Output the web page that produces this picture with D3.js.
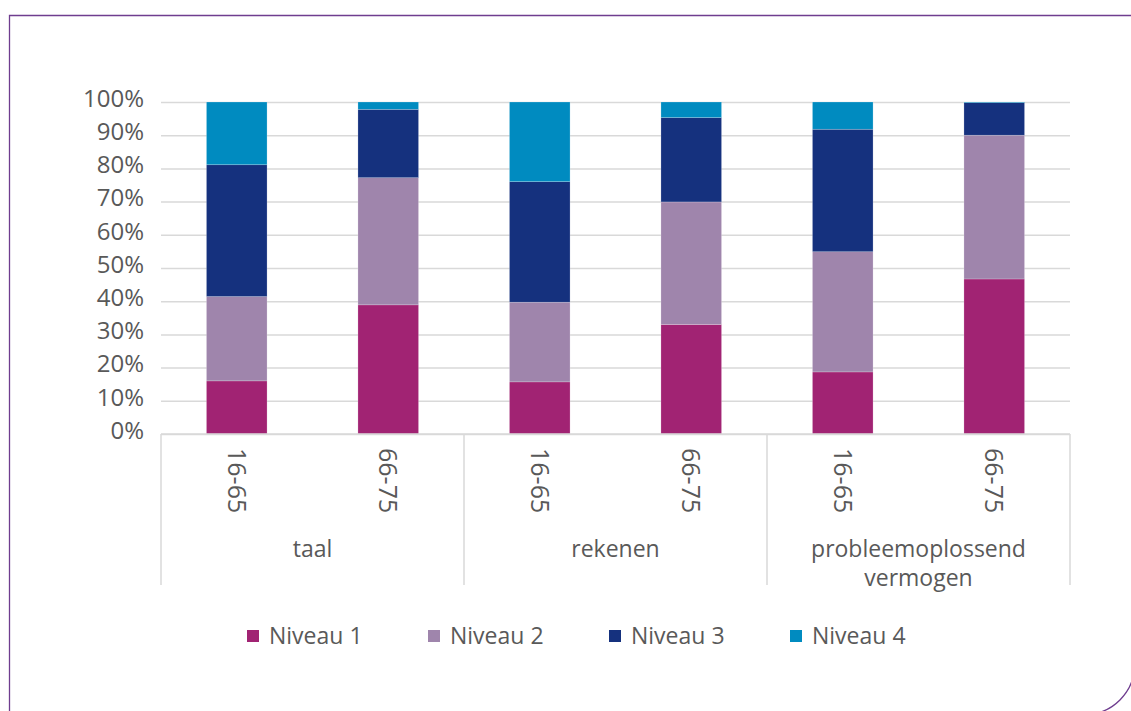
<!DOCTYPE html>
<html>
<head>
<meta charset="utf-8">
<script src="https://cdn.jsdelivr.net/npm/d3@7"></script>
<style>
  body { margin: 0; background: #fff; }
  svg text { font-family: "Open Sans", "Noto Sans", sans-serif; fill: #595959; }
</style>
</head>
<body>
<svg id="chart"></svg>
<script>
/*
    DATA
*/
var groups = ["taal", "rekenen", "probleemoplossend vermogen"];
var ages = ["16-65", "66-75"];
var levels = ["Niveau 1", "Niveau 2", "Niveau 3", "Niveau 4"];
var colors = ["#a12373", "#9f85ac", "#15317e", "#008bc0"];

// percentages per bar, order: taal 16-65, taal 66-75, rekenen ..., probleemoplossend ...
var niveau1 = [16.0, 38.9, 15.7, 33.0, 18.7, 46.7];
var niveau2 = [25.4, 38.3, 24.0, 36.9, 36.2, 43.3];
var niveau3 = [39.7, 20.6, 36.3, 25.4, 36.9, 9.8];
var niveau4 = [18.9, 2.2, 24.0, 4.7, 8.2, 0.2];

var yTicks = [0, 10, 20, 30, 40, 50, 60, 70, 80, 90, 100];

/*
    LAYOUT
*/
var width = 1131;
var height = 711;
var margin = {top: 102, left: 161, right: 61, bottom: 277};
var w = width - margin.left - margin.right;
var h = height - margin.top - margin.bottom;

var svg = d3.select("#chart")
    .attr("width", width)
    .attr("height", height);

// frame: square top-left, rounded bottom-right corner that runs off the page
svg.append("path")
    .attr("d", "M9.5,740 V15.5 H1134.6 V664.6 A50,50 0 0 1 1084.6,714.6 H9.5")
    .attr("fill", "none")
    .attr("stroke", "#6f3d8f")
    .attr("stroke-width", 1.3);

var chart = svg.append("g")
    .attr("transform", "translate(" + margin.left + "," + margin.top + ")");

//build rows for the stack
var rows = [];
groups.forEach(function(g, gi) {
    ages.forEach(function(a, ai) {
        var i = gi * ages.length + ai;
        rows.push({group: g, age: a,
            "Niveau 1": niveau1[i], "Niveau 2": niveau2[i],
            "Niveau 3": niveau3[i], "Niveau 4": niveau4[i]});
    });
});

var stacked = d3.stack().keys(levels)(rows);

/*
    SCALES
*/
var xGroup = d3.scaleBand().domain(groups).range([0, w]);
var xAge = d3.scaleBand().domain(ages).range([0, xGroup.bandwidth()])
    .paddingInner(0.6).paddingOuter(0.3);
var yScale = d3.scaleLinear().domain([0, 100]).range([h, 0]);
var color = d3.scaleOrdinal().domain(levels).range(colors);

// gridlines + y labels
var yAxis = chart.append("g")
    .attr("class", "y-axis")
    .call(d3.axisLeft(yScale).tickValues(yTicks)
        .tickSize(-w).tickPadding(17)
        .tickFormat(function(d) { return d + "%"; }));
yAxis.select(".domain").remove();
yAxis.selectAll(".tick line")
    .attr("stroke", "#d9d9d9")
    .attr("stroke-width", 1.5);
yAxis.selectAll(".tick text")
    .style("font-size", "24px")
    .attr("dy", "0.18em");

/*
    BARS
*/
var layer = chart.selectAll(".layer")
    .data(stacked)
    .enter().append("g")
    .attr("class", "layer")
    .attr("fill", function(d) { return color(d.key); });

layer.selectAll("rect")
    .data(function(d) { return d; })
    .enter().append("rect")
    .attr("x", function(d) { return xGroup(d.data.group) + xAge(d.data.age); })
    .attr("y", function(d) { return yScale(d[1]); })
    .attr("width", xAge.bandwidth())
    .attr("height", function(d) { return yScale(d[0]) - yScale(d[1]); })
    .attr("stroke", "#ffffff")
    .attr("stroke-opacity", 0.35)
    .attr("stroke-width", 0.6);

/*
    X AXIS (two-level)
*/
var xAxis = chart.append("g")
    .attr("transform", "translate(0," + h + ")");

xAxis.append("line")
    .attr("x1", 0).attr("x2", w)
    .attr("stroke", "#d9d9d9").attr("stroke-width", 1.5);

var sepX = [0].concat(groups.map(function(g) { return xGroup(g) + xGroup.bandwidth(); }));
xAxis.selectAll(".sep")
    .data(sepX)
    .enter().append("line")
    .attr("class", "sep")
    .attr("x1", function(d) { return d; })
    .attr("x2", function(d) { return d; })
    .attr("y1", 0).attr("y2", 151)
    .attr("stroke", "#d9d9d9").attr("stroke-width", 1.5);

xAxis.selectAll(".age-label")
    .data(rows)
    .enter().append("text")
    .attr("class", "age-label")
    .attr("transform", function(d) {
        var cx = xGroup(d.group) + xAge(d.age) + xAge.bandwidth() / 2;
        return "translate(" + cx + ",14) rotate(90)";
    })
    .attr("dy", "0.36em")
    .style("font-size", "25px")
    .text(function(d) { return d.age; });

var groupLabels = xAxis.selectAll(".group-label")
    .data(groups)
    .enter().append("text")
    .attr("class", "group-label")
    .attr("text-anchor", "middle")
    .attr("x", function(d) { return xGroup(d) + xGroup.bandwidth() / 2; })
    .attr("y", 123)
    .style("font-size", "23px");

groupLabels.each(function(d) {
    var t = d3.select(this);
    var lines = d == "probleemoplossend vermogen" ? ["probleemoplossend", "vermogen"] : [d];
    lines.forEach(function(l, i) {
        t.append("tspan")
            .attr("x", xGroup(d) + xGroup.bandwidth() / 2)
            .attr("dy", i == 0 ? 0 : 29)
            .text(l);
    });
});

/*
    LEGEND
*/
var legend = svg.append("g")
    .attr("transform", "translate(247,636)");

var item = legend.selectAll(".legend-item")
    .data(levels)
    .enter().append("g")
    .attr("class", "legend-item")
    .attr("transform", function(d, i) { return "translate(" + (i * 181) + ",0)"; });

item.append("rect")
    .attr("x", 0).attr("y", -6)
    .attr("width", 12).attr("height", 12)
    .attr("fill", function(d) { return color(d); });

item.append("text")
    .attr("x", 22)
    .attr("dy", "0.36em")
    .style("font-size", "23px")
    .text(function(d) { return d; });
</script>
</body>
</html>
